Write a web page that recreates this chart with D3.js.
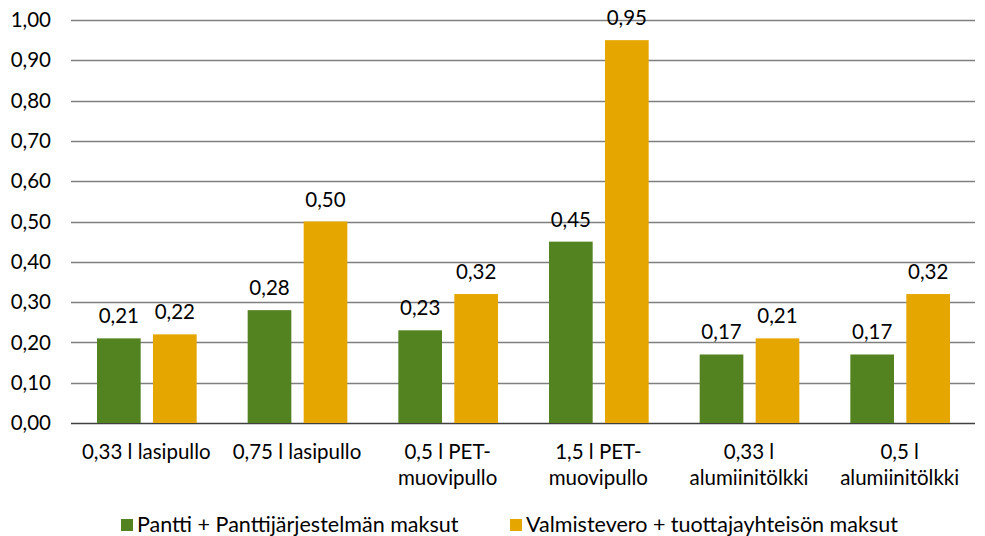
<!DOCTYPE html>
<html>
<head>
<meta charset="utf-8">
<script src="https://cdn.jsdelivr.net/npm/d3@7"></script>
<style>
  body { margin: 0; background: #fff; }
  svg text { font-family: Lato, "Open Sans", sans-serif; fill: #000; }
</style>
</head>
<body>
<svg id="chart" width="985" height="536"></svg>
<script>
// Pakkauskohtaiset maksut (€)
const categories = [
  ["0,33 l lasipullo"],
  ["0,75 l lasipullo"],
  ["0,5 l PET-", "muovipullo"],
  ["1,5 l PET-", "muovipullo"],
  ["0,33 l", "alumiinitölkki"],
  ["0,5 l", "alumiinitölkki"]
];
const seriesNames = ["Pantti + Panttijärjestelmän maksut", "Valmistevero + tuottajayhteisön maksut"];
const pantti = [0.21, 0.28, 0.23, 0.45, 0.17, 0.17];
const valmistevero = [0.22, 0.50, 0.32, 0.95, 0.21, 0.32];
const yTicks = [0, 0.1, 0.2, 0.3, 0.4, 0.5, 0.6, 0.7, 0.8, 0.9, 1.0];
const colors = ["#538221", "#E6A600"];

const svg = d3.select("#chart");
const margin = { left: 71, right: 10, top: 20, bottom: 113 };
const width = 985, height = 536;
const fs = 20.5;

const x0 = d3.scaleBand()
  .domain(d3.range(categories.length))
  .range([margin.left, width - margin.right])
  .paddingInner(0).paddingOuter(0);

const x1 = d3.scaleBand()
  .domain([0, 1])
  .range([26, x0.bandwidth() - 25])
  .paddingInner(0.22);

const y = d3.scaleLinear().domain([0, 1]).range([height - margin.bottom, margin.top]);

const fmt = v => d3.format(".2f")(v).replace(".", ",");

// Vaakasuorat apuviivat
svg.append("g")
  .selectAll("line")
  .data(yTicks)
  .join("line")
  .attr("x1", margin.left)
  .attr("x2", width - margin.right)
  .attr("y1", d => Math.round(y(d)) + 0.5)
  .attr("y2", d => Math.round(y(d)) + 0.5)
  .attr("stroke", d => d === 0 ? "#404040" : "#7f7f7f")
  .attr("stroke-width", 1.3);

// Y-akselin arvot
svg.append("g")
  .selectAll("text")
  .data(yTicks)
  .join("text")
  .attr("x", 51)
  .attr("y", d => y(d))
  .attr("dy", "0.35em")
  .attr("text-anchor", "end")
  .attr("font-size", fs)
  .text(fmt);

const series = [pantti, valmistevero];
const groups = svg.append("g")
  .selectAll("g")
  .data(categories.map((c, i) => i))
  .join("g")
  .attr("transform", i => `translate(${x0(i)},0)`);

groups.selectAll("rect")
  .data(i => series.map((s, k) => ({ k, v: s[i] })))
  .join("rect")
  .attr("x", d => x1(d.k))
  .attr("width", x1.bandwidth())
  .attr("y", d => y(d.v))
  .attr("height", d => y(0) - y(d.v))
  .attr("fill", d => colors[d.k]);

groups.selectAll("text.val")
  .data(i => series.map((s, k) => ({ k, v: s[i] })))
  .join("text")
  .attr("class", "val")
  .attr("x", d => x1(d.k) + x1.bandwidth() / 2)
  .attr("y", d => y(d.v) - 15)
  .attr("text-anchor", "middle")
  .attr("font-size", fs)
  .text(d => fmt(d.v));

// Kategoriat
groups.append("text")
  .attr("x", x0.bandwidth() / 2)
  .attr("y", 459)
  .attr("text-anchor", "middle")
  .attr("font-size", fs)
  .selectAll("tspan")
  .data(i => categories[i])
  .join("tspan")
  .attr("x", x0.bandwidth() / 2)
  .attr("dy", (d, j) => j === 0 ? 0 : 26)
  .text(d => d);

// Selite
const legendX = [121, 510];
const legend = svg.append("g")
  .selectAll("g")
  .data(seriesNames)
  .join("g")
  .attr("transform", (d, i) => `translate(${legendX[i]},519)`);
legend.append("rect")
  .attr("width", 12).attr("height", 12)
  .attr("fill", (d, i) => colors[i]);
legend.append("text")
  .attr("x", 16).attr("y", 13)
  .attr("font-size", 21.5)
  .text(d => d);
</script>
</body>
</html>
